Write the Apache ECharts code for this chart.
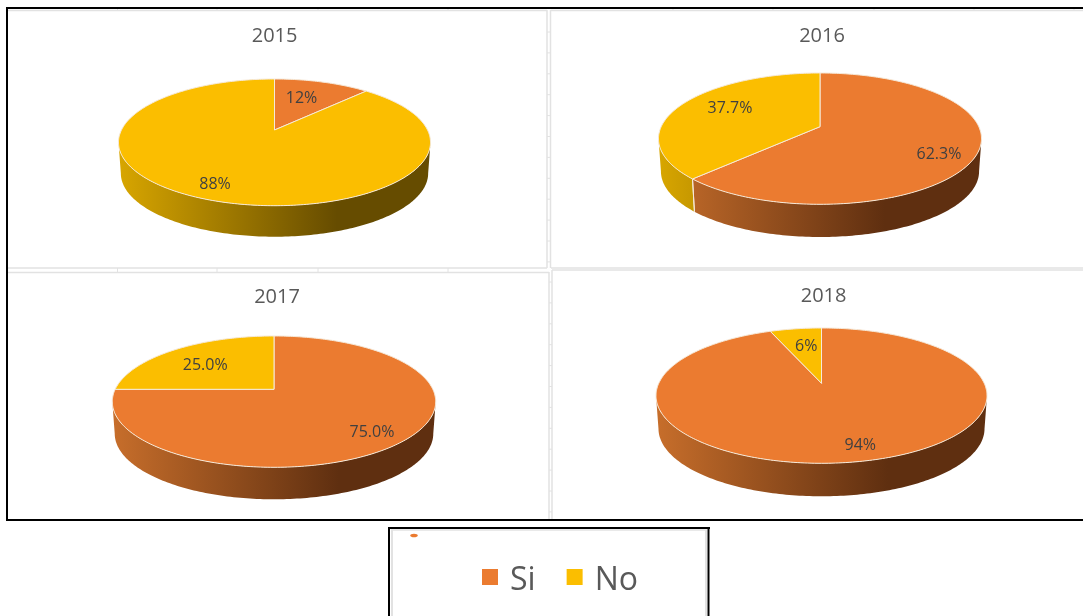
<!DOCTYPE html>
<html>
<head>
<meta charset="utf-8">
<style>html,body{margin:0;padding:0;background:#fff}#c{width:1083px;height:616px}</style>
<script src="https://cdn.jsdelivr.net/npm/echarts@6/dist/echarts.min.js"></script>
</head>
<body>
<div id="c"></div>
<script>
// ---- data ----
const years = ['2015', '2016', '2017', '2018'];
const seriesNames = ['Si', 'No'];
const siValues = [12, 62.3, 75, 94];
const noValues = [88, 37.7, 25, 6];
const labelDecimals = [0, 1, 1, 0];

// ---- layout (pixels) ----
const pieCx = [274.5, 820, 274, 821.5];
const pieApexY = [130, 126.7, 389.3, 383.3];
const pieRx = [156, 161.5, 161.7, 165.5];
const pieBack = [51, 53.7, 53.3, 55.3];
const pieFront = [75.7, 77.6, 78, 80];
const pieDepth = [31, 32.7, 32, 33];
const titleCx = [274.6, 822, 277, 823.6];
const titleCy = [36, 36, 297.5, 295.8];
const siLabelOffset = [[27, -31.5], [119, 27.8], [98, 43.2], [38.8, 62.2]];
const noLabelOffset = [[-59.5, 54.5], [-90, -18.2], [-68.8, -23.5], [-15.2, -36.8]];

// ---- styles ----
const topColors = ['#EB7B30', '#FBBE00'];
const wallLight = ['#C76E2B', '#D8A600'];
const wallDark = ['#5F2F10', '#664C00'];
const edgeColor = '#F6E9D8';
const gridColor = '#E2E2E2';

const rad = Math.PI / 180;

function projector(i) {
  const t = pieBack[i], b = pieFront[i];
  const k = (b - t) / (b + t);
  const B = t * (1 + k);
  const A = pieRx[i] * Math.sqrt(1 - k * k);
  const fn = function (deg, r, depth, shrink) {
    const u = Math.sin(deg * rad) * r, v = -Math.cos(deg * rad) * r;
    const w = 1 - k * v;
    return [pieCx[i] + (shrink || 1) * A * u / w, pieApexY[i] + B * v / w + (depth || 0)];
  };
  fn.k = k;
  return fn;
}

function makeRenderItem(colorIdx, offsets) {
  return function (params, api) {
    const i = api.value(0), start = api.value(1), val = api.value(2);
    const a0 = echarts.number.linearMap(start, [0, 100], [0, 360]);
    const a1 = echarts.number.linearMap(start + val, [0, 100], [0, 360]);
    const P = projector(i);
    const children = [];

    // side wall: the part of the slice's rim turned towards the viewer
    const visA = 90 + Math.asin(P.k) / rad, visB = 270 - Math.asin(P.k) / rad;
    const w0 = Math.max(a0, visA), w1 = Math.min(a1, visB);
    if (w1 > w0) {
      const pts = [];
      for (let d = w0; d < w1; d += 1) pts.push(P(d, 1));
      pts.push(P(w1, 1));
      for (let d = w1; d > w0; d -= 1) pts.push(P(d, 1, pieDepth[i], 0.985));
      pts.push(P(w0, 1, pieDepth[i], 0.985));
      children.push({
        type: 'polygon', z2: 1, shape: { points: pts },
        style: {
          fill: {
            type: 'linear', global: true,
            x: pieCx[i] - pieRx[i], y: 0, x2: pieCx[i] + pieRx[i], y2: 0,
            colorStops: [
              { offset: 0, color: wallLight[colorIdx] },
              { offset: 0.7, color: wallDark[colorIdx] },
              { offset: 1, color: wallDark[colorIdx] }
            ]
          }
        }
      });
      [a0, a1].forEach(function (d) {
        if (d > visA && d < visB) {
          const p = P(d, 1), q = P(d, 1, pieDepth[i], 0.985);
          children.push({
            type: 'line', z2: 2, shape: { x1: p[0], y1: p[1], x2: q[0], y2: q[1] },
            style: { stroke: edgeColor, lineWidth: 1 }
          });
        }
      });
    }

    // top face
    const face = [P(0, 0)];
    for (let d = a0; d < a1; d += 1) face.push(P(d, 1));
    face.push(P(a1, 1));
    children.push({
      type: 'polygon', z2: 5, shape: { points: face },
      style: { fill: topColors[colorIdx], stroke: edgeColor, lineWidth: 1, lineJoin: 'round' }
    });

    // label
    const off = offsets[i];
    children.push({
      type: 'text', z2: 10,
      x: pieCx[i] + off[0], y: pieApexY[i] + off[1],
      style: {
        text: val.toFixed(labelDecimals[i]) + '%',
        fill: '#404040', font: '16px "Open Sans"', align: 'center', verticalAlign: 'middle'
      }
    });
    return { type: 'group', children: children };
  };
}

// ---- page furniture ----
function hline(x1, x2, y, c, w) { return { type: 'line', z: 1, shape: { x1: x1, y1: y, x2: x2, y2: y }, style: { stroke: c, lineWidth: w } }; }
function vline(x, y1, y2, c, w) { return { type: 'line', z: 1, shape: { x1: x, y1: y1, x2: x, y2: y2 }, style: { stroke: c, lineWidth: w } }; }

const furniture = [];
[[8, 547, 10.5], [8, 547, 268], [8, 549, 272.5], [551, 1083, 10.5], [551, 1083, 268], [552, 1083, 270]].forEach(function (l) {
  furniture.push(hline(l[0], l[1], l[2], gridColor, 1.5));
});
[[547, 10, 268], [550.5, 10, 268], [549, 272, 519], [552, 270, 519]].forEach(function (l) {
  furniture.push(vline(l[0], l[1], l[2], gridColor, 1.5));
});
[117.5, 217, 318, 448].forEach(function (x) {
  furniture.push(vline(x, 8, 11, gridColor, 1));
  furniture.push(vline(x, 268, 272, gridColor, 1));
});
[673, 773, 874, 974, 1074].forEach(function (x) {
  furniture.push(vline(x, 8, 11, gridColor, 1));
});
for (let y = 32; y < 268; y += 20.9) furniture.push(hline(547, 550, y, gridColor, 1));
for (let y = 282; y < 519; y += 20.9) furniture.push(hline(549, 552, y, gridColor, 1));
furniture.push(hline(6, 1083, 8, '#000', 2));
furniture.push(hline(6, 1083, 520, '#000', 2));
furniture.push(vline(7, 7, 521, '#000', 2));
// legend box
furniture.push(vline(392, 530, 616, gridColor, 2));
furniture.push(vline(706, 530, 616, gridColor, 2));
furniture.push(hline(391, 707, 530, gridColor, 1.5));
furniture.push(hline(388, 710, 528, '#000', 2));
furniture.push(vline(389, 527, 616, '#000', 2));
furniture.push(vline(708.5, 527, 616, '#000', 2));
furniture.push({ type: 'ellipse', z: 1, shape: { cx: 414, cy: 535.5, rx: 3.8, ry: 1.8 }, style: { fill: topColors[0] } });

const chart = echarts.init(document.getElementById('c'), null, { renderer: 'canvas', width: 1083, height: 616 });
chart.setOption({
  animation: false,
  backgroundColor: '#fff',
  title: years.map(function (y, i) {
    return {
      text: y, left: titleCx[i], top: titleCy[i] - 14, textAlign: 'center', padding: 0,
      textStyle: { color: '#595959', fontFamily: 'Open Sans', fontWeight: 'normal', fontSize: 20, lineHeight: 28 }
    };
  }),
  legend: {
    left: 482, top: 565, padding: 0, itemWidth: 16, itemHeight: 16, itemGap: 31,
    icon: 'rect', data: seriesNames, formatter: '{t|{name}}',
    textStyle: {
      color: '#595959', fontFamily: 'Open Sans', fontSize: 32,
      rich: { t: { color: '#595959', fontFamily: 'Open Sans', fontSize: 32, padding: [8, 0, 0, 7] } }
    }
  },
  graphic: { elements: furniture },
  series: [
    {
      type: 'custom', name: seriesNames[0], coordinateSystem: 'none',
      itemStyle: { color: topColors[0] },
      renderItem: makeRenderItem(0, siLabelOffset),
      data: years.map(function (y, i) { return [i, 0, siValues[i]]; })
    },
    {
      type: 'custom', name: seriesNames[1], coordinateSystem: 'none',
      itemStyle: { color: topColors[1] },
      renderItem: makeRenderItem(1, noLabelOffset),
      data: years.map(function (y, i) { return [i, siValues[i], noValues[i]]; })
    }
  ]
});
</script>
</body>
</html>
